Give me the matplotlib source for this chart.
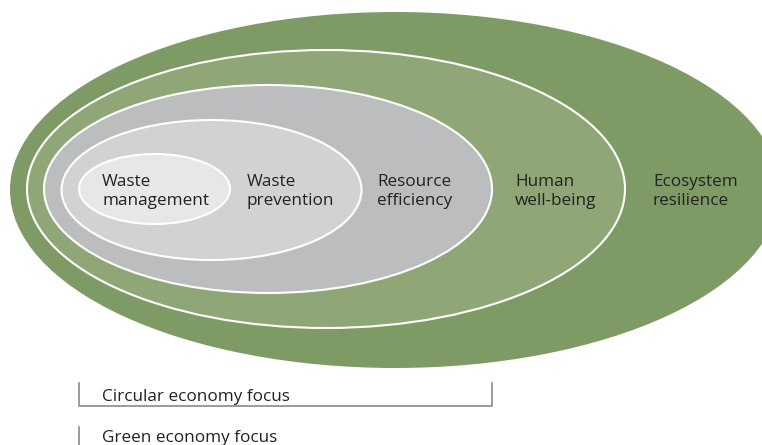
import matplotlib
matplotlib.use('agg')
import matplotlib.pyplot as plt
from matplotlib.patches import Ellipse

# layers, outermost first (pixel coordinates of the 762x445 image)
layers = ['Ecosystem\nresilience', 'Human\nwell-being', 'Resource\nefficiency',
          'Waste\nprevention', 'Waste\nmanagement']
cx = [395, 326, 268, 211.5, 154.5]
cy = [190, 189, 189, 190, 189]
half_w = [385, 299, 224, 150, 75.5]
half_h = [178, 139, 104, 70, 35]
fills = ['#7f9b65', '#8fa776', '#bcbdbf', '#d1d2d4', '#e6e7e8']
label_x = [653, 515, 377, 247, 102]

plt.rcParams['font.family'] = ['Open Sans', 'DejaVu Sans']

fig = plt.figure(figsize=(7.62, 4.45), dpi=100)
ax = fig.add_axes([0, 0, 1, 1])
ax.set_xlim(0, 762)
ax.set_ylim(445, 0)
ax.axis('off')

for i in range(len(layers)):
    ec = 'none' if i == 0 else 'white'
    e = Ellipse((cx[i], cy[i]), 2 * half_w[i], 2 * half_h[i],
                facecolor=fills[i], edgecolor=ec, linewidth=1.5)
    ax.add_patch(e)
    ax.text(label_x[i], 191.5, layers[i], fontsize=12.3, color='#222222',
            ha='left', va='center', linespacing=1.25)

# brackets below
gray = '#8a8a8a'
ax.plot([79, 79, 492, 492], [383, 406, 406, 383], color=gray, lw=1.2)
ax.text(102, 397, 'Circular economy focus', fontsize=12.3, color='#222222',
        ha='left', va='center')
ax.plot([79, 79], [427, 445], color=gray, lw=1.2)
ax.text(102, 438.5, 'Green economy focus', fontsize=12.3, color='#222222',
        ha='left', va='center')

fig.savefig('out.png', dpi=100)
